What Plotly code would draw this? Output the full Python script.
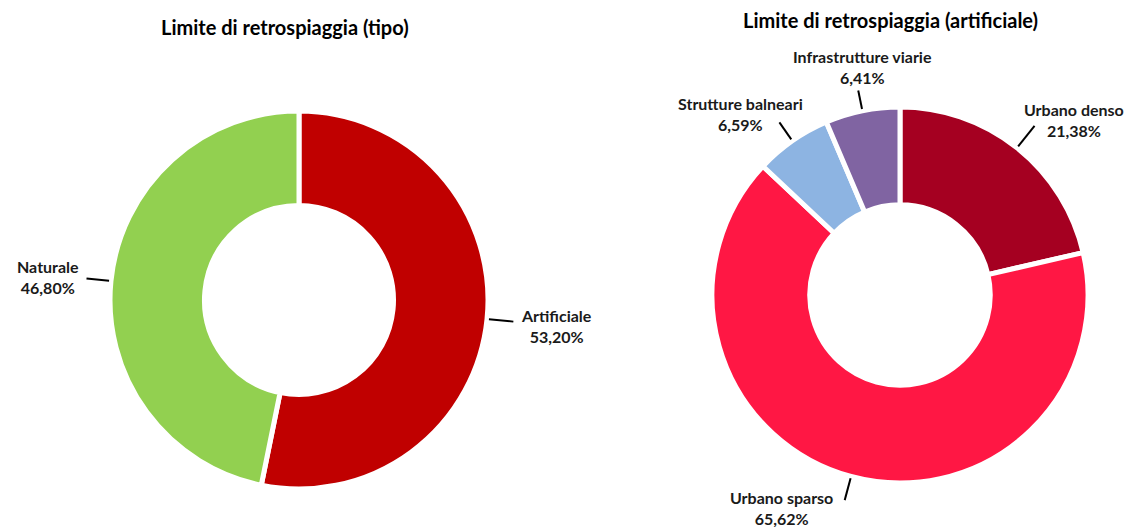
import math
import plotly.graph_objects as go

W, H = 1137, 527

# ---- data ----
left_title = "Limite di retrospiaggia (tipo)"
left_labels = ["Artificiale", "Naturale"]
left_values = [53.20, 46.80]
left_colors = ["#C00000", "#92D050"]

right_title = "Limite di retrospiaggia (artificiale)"
right_labels = ["Urbano denso", "Urbano sparso", "Strutture balneari", "Infrastrutture viarie"]
right_values = [21.38, 65.62, 6.59, 6.41]
right_colors = ["#A50021", "#FF1744", "#8DB4E2", "#8064A2"]

# ---- layout constants (pixels) ----
FONT = "Lato"
L_CX, L_CY, L_R, L_HOLE = 299, 300, 189, 0.50
R_CX, R_CY, R_R, R_HOLE = 900, 295, 188, 0.48

# per-label leader length factors and text offsets (pixels) from leader end
left_lead = [1.14, 1.13]
left_off = [(6, 4, "left", "middle"), (-6, -2, "right", "middle")]
right_lead = [1.15, 1.13, 1.12, 1.11]
right_off = [(39, -6, "center", "middle"), (-10, 8, "right", "middle"),
             (-39, -8, "center", "middle"), (4, -2, "center", "bottom")]


def px(x):
    return x / W


def py(y):
    return 1 - y / H


def pct(v):
    return f"{v:.2f}".replace(".", ",") + "%"


fig = go.Figure()
shapes = []
annotations = []


def add_donut(labels, values, colors, cx, cy, r, hole, leads, offs):
    fig.add_trace(go.Pie(
        labels=labels, values=values, hole=hole, sort=False,
        direction="clockwise", rotation=0,
        marker=dict(colors=colors, line=dict(color="white", width=5)),
        textinfo="none", hoverinfo="label+percent", showlegend=False,
        domain=dict(x=[px(cx - r), px(cx + r)], y=[py(cy + r), py(cy - r)]),
    ))
    total = sum(values)
    cum = 0.0
    for lab, v, k, (dx, dy, xa, ya) in zip(labels, values, leads, offs):
        mid = (cum + v / 2) / total * 2 * math.pi
        cum += v
        sx, sy = math.sin(mid), -math.cos(mid)
        x0, y0 = cx + r * 1.01 * sx, cy + r * 1.01 * sy
        x1, y1 = cx + r * k * sx, cy + r * k * sy
        shapes.append(dict(type="line", xref="paper", yref="paper",
                           x0=px(x0), y0=py(y0), x1=px(x1), y1=py(y1),
                           line=dict(color="black", width=2)))
        annotations.append(dict(
            xref="paper", yref="paper", x=px(x1 + dx), y=py(y1 + dy),
            xanchor=xa, yanchor=ya, showarrow=False, align="center",
            text=f"<b>{lab}<br>{pct(v / total * 100)}</b>",
            font=dict(family=FONT, size=16, color="#1a1a1a"),
        ))


add_donut(left_labels, left_values, left_colors, L_CX, L_CY, L_R, L_HOLE, left_lead, left_off)
add_donut(right_labels, right_values, right_colors, R_CX, R_CY, R_R, R_HOLE, right_lead, right_off)

annotations.append(dict(xref="paper", yref="paper", x=px(285), y=py(27),
                        xanchor="center", yanchor="middle", showarrow=False,
                        text=f"<b>{left_title}</b>",
                        font=dict(family=FONT, size=20, color="#000000")))
annotations.append(dict(xref="paper", yref="paper", x=px(890), y=py(20),
                        xanchor="center", yanchor="middle", showarrow=False,
                        text=f"<b>{right_title}</b>",
                        font=dict(family=FONT, size=20, color="#000000")))

fig.update_layout(
    width=W, height=H, margin=dict(l=0, r=0, t=0, b=0),
    paper_bgcolor="white", plot_bgcolor="white",
    shapes=shapes, annotations=annotations,
)

fig.write_html("out.html", config={"displayModeBar": False},
               post_script="document.body.style.margin='0px';")
